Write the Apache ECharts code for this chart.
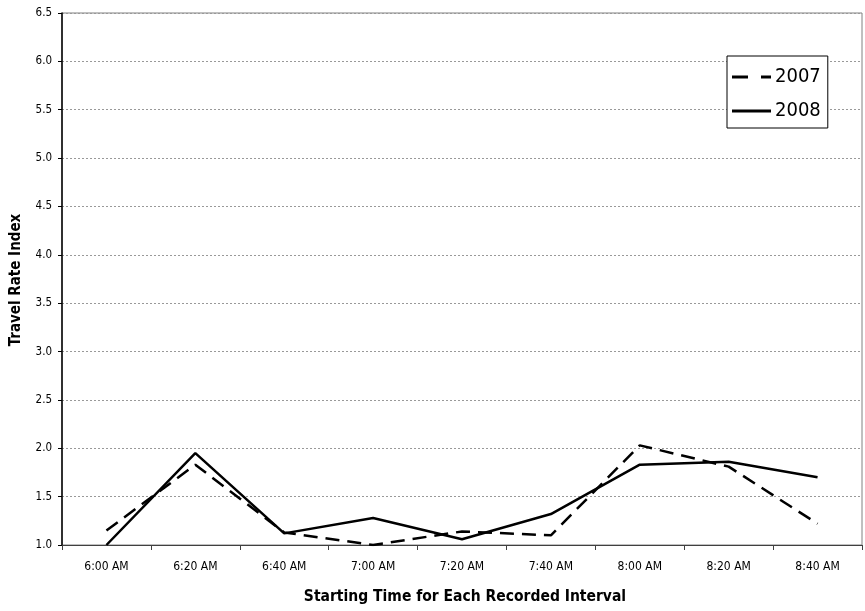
<!DOCTYPE html>
<html><head><meta charset="utf-8">
<script src="https://cdn.jsdelivr.net/npm/echarts@6/dist/echarts.min.js"></script>
<style>html,body{margin:0;padding:0;background:#fff;overflow:hidden}#c{width:865px;height:611px}</style>
</head><body><div id="c"></div>
<script>
const categories = ['6:00 AM','6:20 AM','6:40 AM','7:00 AM','7:20 AM','7:40 AM','8:00 AM','8:20 AM','8:40 AM'];
const values2007 = [1.15, 1.83, 1.13, 1.00, 1.14, 1.10, 2.03, 1.81, 1.22];
const values2008 = [1.00, 1.95, 1.12, 1.28, 1.06, 1.32, 1.83, 1.86, 1.70];
const seriesNames = ['2007', '2008'];
const xTitle = 'Starting Time for Each Recorded Interval';
const yTitle = 'Travel Rate Index';
const FONT = '"Liberation Sans Narrow", "DejaVu Sans Condensed", "Roboto Condensed", sans-serif';
const chart = echarts.init(document.getElementById('c'), null, {width: 865, height: 611});
chart.setOption({
  animation: false,
  backgroundColor: '#fff',
  grid: {left: 62, right: 3, top: 13, bottom: 66, show: true, borderColor: '#808080', borderWidth: 1,
         containLabel: false, outerBoundsMode: 'none'},
  legend: {
    data: [
      {name: seriesNames[0], icon: 'path://M0,0h16v3h-16z M29,0h10v3h-10z'},
      {name: seriesNames[1], icon: 'path://M0,0h39v3h-39z'}
    ],
    orient: 'vertical', left: 727, top: 56,
    backgroundColor: '#fff', borderColor: '#000', borderWidth: 1, padding: [11, 7, 7, 5],
    itemWidth: 39, itemHeight: 3, itemGap: 14,
    itemStyle: {color: '#000', borderWidth: 0},
    textStyle: {fontFamily: FONT, fontSize: 20, color: '#000', padding: [0, 0, 0, -1]}
  },
  graphic: [
    {type: 'text', x: 465, y: 597, style: {text: xTitle, fontFamily: FONT, fontSize: 15.5, fontWeight: 'bold',
      fill: '#000', align: 'center', verticalAlign: 'middle'}},
    {type: 'text', x: 16.5, y: 280, rotation: Math.PI / 2, style: {text: yTitle, fontFamily: FONT, fontSize: 15,
      fontWeight: 'bold', fill: '#000', align: 'center', verticalAlign: 'middle'}}
  ],
  xAxis: {
    type: 'category', data: categories, boundaryGap: true,
    axisLine: {lineStyle: {color: '#404040', width: 1}},
    axisTick: {show: true, length: 5, lineStyle: {color: '#404040'}},
    axisLabel: {fontFamily: FONT, fontSize: 12, color: '#000', margin: 16}
  },
  yAxis: {
    type: 'value', min: 1.0, max: 6.5, interval: 0.5,
    axisLine: {show: true, lineStyle: {color: '#000', width: 1.5}},
    axisTick: {show: true, length: 4, lineStyle: {color: '#000'}},
    axisLabel: {fontFamily: FONT, fontSize: 11.5, color: '#000', margin: 10, formatter: v => v.toFixed(1)},
    splitLine: {show: true, lineStyle: {color: '#999', type: [2, 2], width: 1}}
  },
  series: [
    {name: seriesNames[0], type: 'line', data: values2007, symbol: 'none', color: '#000',
     lineStyle: {color: '#000', width: 2.5, type: [14, 8]}},
    {name: seriesNames[1], type: 'line', data: values2008, symbol: 'none', color: '#000',
     lineStyle: {color: '#000', width: 2.5, type: 'solid'}}
  ]
});
</script></body></html>
